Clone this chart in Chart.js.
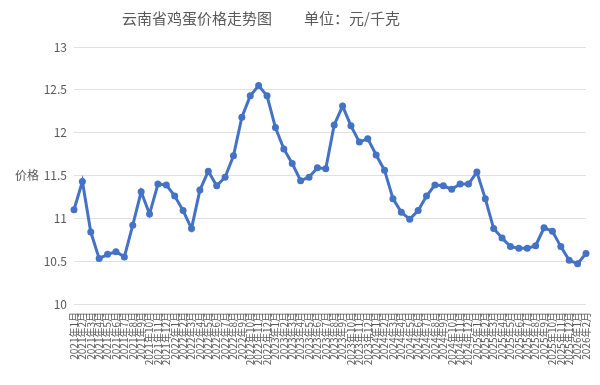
<!DOCTYPE html>
<html>
<head>
<meta charset="utf-8">
<script src="https://cdn.jsdelivr.net/npm/chart.js@4.4.1/dist/chart.umd.min.js"></script>
<style>
html,body{margin:0;padding:0;background:#fff;}
#wrap{width:600px;height:385px;}
</style>
</head>
<body>
<div id="wrap"><canvas id="eggChart" width="600" height="385"></canvas></div>
<script>
// 月份
var months = ["2021年1月","2021年2月","2021年3月","2021年4月","2021年5月","2021年6月","2021年7月","2021年8月","2021年9月","2021年10月","2021年11月","2021年12月",
  "2022年1月","2022年2月","2022年3月","2022年4月","2022年5月","2022年6月","2022年7月","2022年8月","2022年9月","2022年10月","2022年11月","2022年12月",
  "2023年1月","2023年2月","2023年3月","2023年4月","2023年5月","2023年6月","2023年7月","2023年8月","2023年9月","2023年10月","2023年11月","2023年12月",
  "2024年1月","2024年2月","2024年3月","2024年4月","2024年5月","2024年6月","2024年7月","2024年8月","2024年9月","2024年10月","2024年11月","2024年12月",
  "2025年1月","2025年2月","2025年3月","2025年4月","2025年5月","2025年6月","2025年7月","2025年8月","2025年9月","2025年10月","2025年11月","2025年12月",
  "2026年1月","2026年2月"];
// 价格 元/千克
var prices = [11.10,11.43,10.84,10.53,10.58,10.61,10.55,10.92,11.31,11.05,11.40,11.39,
  11.26,11.09,10.88,11.33,11.55,11.38,11.48,11.73,12.18,12.43,12.55,12.43,
  12.06,11.81,11.64,11.44,11.48,11.59,11.58,12.09,12.31,12.08,11.89,11.93,
  11.74,11.56,11.23,11.07,10.99,11.09,11.26,11.39,11.38,11.34,11.40,11.40,
  11.54,11.23,10.88,10.77,10.67,10.65,10.65,10.68,10.89,10.85,10.67,10.51,
  10.47,10.59];
var titleMain = "云南省鸡蛋价格走势图";
var titleUnit = "单位：元/千克";
var yTitle = "价格";

var FONT = "'Noto Sans CJK SC', sans-serif";
var textColor = "#595959";

// 标题和纵轴名称
var textPlugin = {
  id: "texts",
  afterDraw: function(chart){
    var ctx = chart.ctx;
    ctx.save();
    ctx.fillStyle = textColor;
    ctx.textBaseline = "middle";
    ctx.textAlign = "left";
    ctx.font = "15px " + FONT;
    ctx.fillText(titleMain, 122, 18);
    ctx.fillText(titleUnit, 304, 18);
    ctx.font = "12px " + FONT;
    var a = chart.chartArea;
    ctx.fillText(yTitle, 15, (a.top + a.bottom) / 2);
    ctx.restore();
  }
};

new Chart(document.getElementById("eggChart"), {
  type: "line",
  data: {
    labels: months,
    datasets: [{
      data: prices,
      borderColor: "#4472C4",
      backgroundColor: "#4472C4",
      borderWidth: 3,
      pointRadius: 3.5,
      pointBorderWidth: 0,
      pointBackgroundColor: "#4472C4",
      tension: 0,
      fill: false
    }]
  },
  options: {
    responsive: false,
    animation: false,
    layout: {padding: {top: 47, right: 14, left: 0, bottom: 0}},
    plugins: {
      legend: {display: false},
      title: {display: false},
      tooltip: {enabled: false}
    },
    scales: {
      x: {
        offset: false,
        grid: {display: false, drawTicks: false},
        border: {display: false},
        ticks: {
          autoSkip: false,
          minRotation: 90,
          maxRotation: 90,
          padding: 8,
          color: textColor,
          font: {size: 10, family: FONT}
        },
        afterFit: function(s){
          s.height = 81;
          s.paddingLeft = 0;
          s.paddingRight = 0;
        }
      },
      y: {
        min: 10,
        max: 13,
        grid: {color: "#e0e0e0", lineWidth: 1, drawTicks: false},
        border: {display: false},
        ticks: {
          stepSize: 0.5,
          padding: 7,
          color: textColor,
          font: {size: 12, family: FONT},
          callback: function(v){ return String(Math.round(v * 10) / 10); }
        },
        afterFit: function(s){ s.width = 74; }
      }
    }
  },
  plugins: [textPlugin]
});
</script>
</body>
</html>
